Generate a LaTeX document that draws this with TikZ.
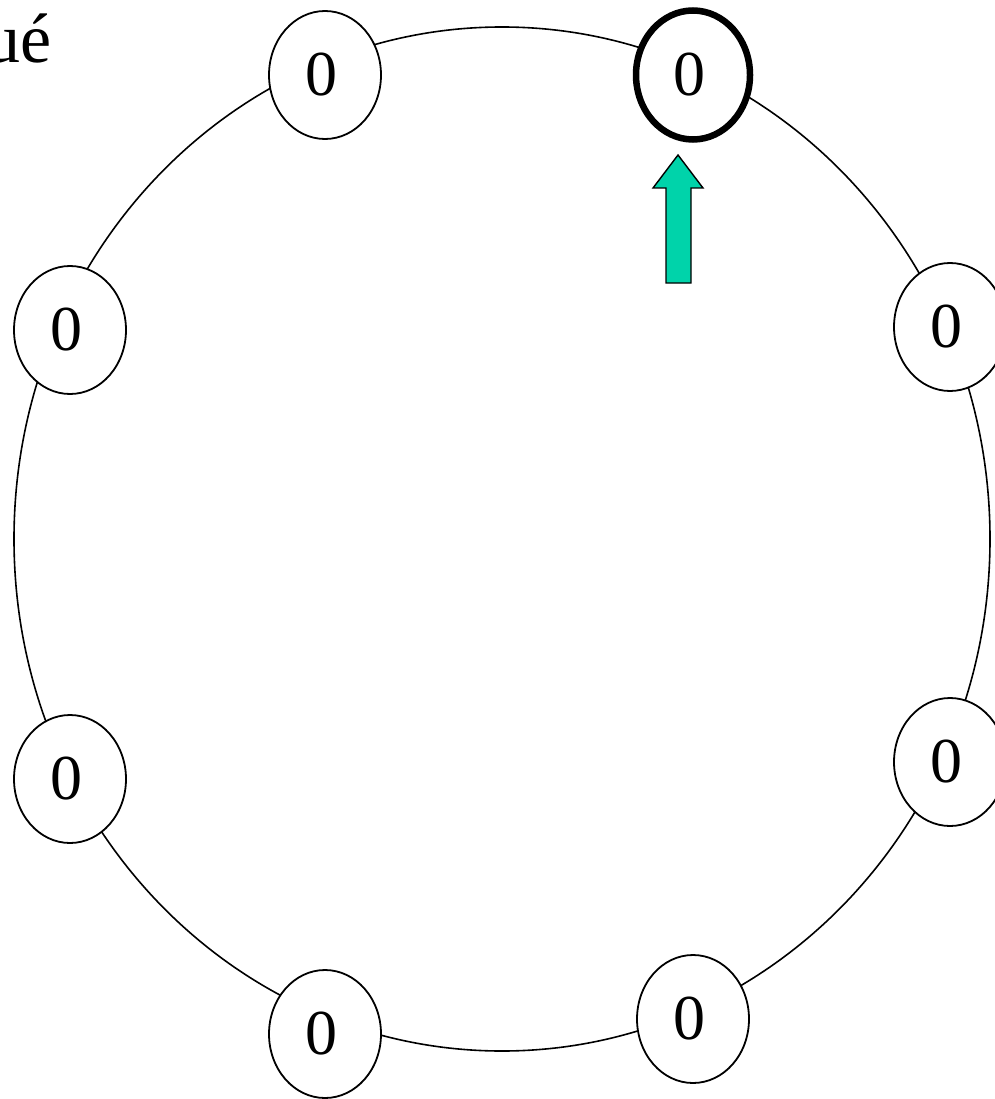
\documentclass[tikz,border=0pt]{standalone}
\usepackage{fontspec}
\setmainfont{Liberation Serif}
\usetikzlibrary{shapes.geometric}
\definecolor{arrowgreen}{RGB}{0,211,170}
\begin{document}
\begin{tikzpicture}[x=1pt,y=-1pt,
  ringnode/.style={ellipse,draw=black,line width=1.8pt,fill=white,
    minimum width=112pt,minimum height=128pt,inner sep=0pt,
    font=\fontsize{64}{64}\selectfont},
  activenode/.style={ringnode,line width=6.5pt,minimum width=114pt,minimum height=129pt},
  ringline/.style={draw=black,line width=1.6pt},
  pointer/.style={draw=black,line width=1.4pt,fill=arrowgreen}]
\useasboundingbox (0,0) rectangle (994,1099);
\draw[ringline] (502,539) ellipse [x radius=488, y radius=512];
\node[ringnode] (n1) at (325,75) {\hspace*{-8pt}0};
\node[activenode] (n2) at (693,75) {\hspace*{-8pt}0};
\node[ringnode] (n3) at (950,327) {\hspace*{-8pt}0};
\node[ringnode] (n4) at (950,762) {\hspace*{-8pt}0};
\node[ringnode] (n5) at (693,1019) {\hspace*{-8pt}0};
\node[ringnode] (n6) at (325,1034) {\hspace*{-8pt}0};
\node[ringnode] (n7) at (70,779) {\hspace*{-8pt}0};
\node[ringnode] (n8) at (70,330) {\hspace*{-8pt}0};
\node[anchor=base east,inner sep=0pt,font=\fontsize{70}{70}\selectfont] (lbl) at (52,63) {ué};
\draw[pointer] (666,283) -- (691,283) -- (691,188) -- (703,188) -- (678,155) -- (653,188) -- (666,188) -- cycle;
\end{tikzpicture}
\end{document}
